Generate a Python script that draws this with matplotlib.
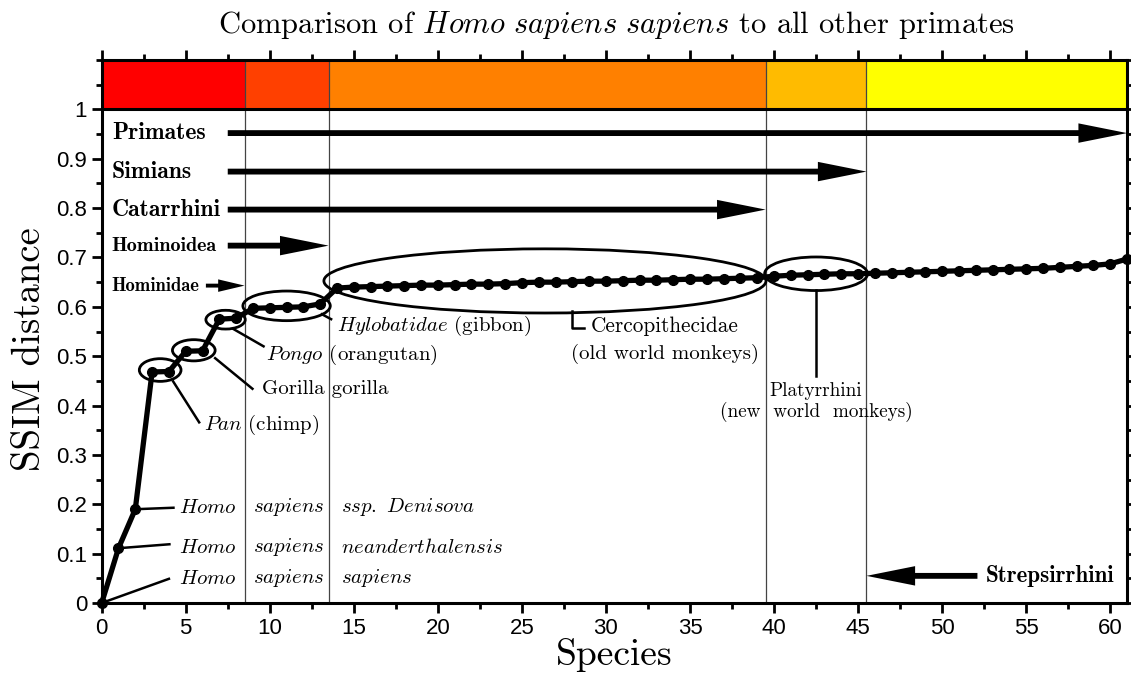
import numpy as np
import matplotlib
matplotlib.use("Agg")
import matplotlib.pyplot as plt
from matplotlib.patches import Ellipse, FancyArrowPatch
from matplotlib.ticker import MultipleLocator, FuncFormatter

plt.rcParams['mathtext.fontset'] = 'cm'

# species index and SSIM distance to Homo sapiens sapiens
species = np.arange(62)
ssim = [0.0, 0.111, 0.190, 0.468, 0.469, 0.510, 0.511, 0.575, 0.577,
        0.597, 0.598, 0.599, 0.600, 0.606,
        0.638, 0.640, 0.641, 0.642, 0.643, 0.644, 0.644, 0.645, 0.646,
        0.646, 0.647, 0.649, 0.650, 0.650, 0.651, 0.652, 0.652, 0.653,
        0.654, 0.654, 0.655, 0.656, 0.656, 0.657, 0.658, 0.659,
        0.662, 0.664, 0.665, 0.666, 0.667, 0.667,
        0.668, 0.669, 0.670, 0.671, 0.672, 0.673, 0.674, 0.675, 0.676,
        0.677, 0.678, 0.680, 0.682, 0.684, 0.687, 0.697]

# group boundaries and colour band
bounds = [0, 8.5, 13.5, 39.5, 45.5, 61]
band_colors = ['#ff0000', '#ff4000', '#ff8000', '#ffbb00', '#ffff00']

# clade arrows: label, y, start, end, font size
clades = [('Primates', 0.952, 7.5, 61, 17), ('Simians', 0.874, 7.5, 45.5, 17),
          ('Catarrhini', 0.797, 7.5, 39.5, 17), ('Hominoidea', 0.724, 7.5, 13.5, 14.5)]

serif = 'cmr10'
bold = 'cmb10'
sans = 'Liberation Sans'

fig = plt.figure(figsize=(11.31, 6.73), dpi=100)
ax = fig.add_axes([0.0899, 0.104, 0.9066, 0.8068])

# colour band
for i, c in enumerate(band_colors):
    ax.bar(bounds[i], 0.1, width=bounds[i + 1] - bounds[i], bottom=1,
           align='edge', color=c, edgecolor='none', zorder=1)
ax.axhline(1, color='black', lw=2.2, zorder=3)
for b in bounds[1:-1]:
    ax.axvline(b, color='#444444', lw=0.9, zorder=2)

ax.plot(species, ssim, '-o', color='black', lw=3.8, ms=7, zorder=5, clip_on=False)

def arrow(x0, x1, y, hl=35, hw=14, tw=4.2):
    p = FancyArrowPatch((x0, y), (x1, y), mutation_scale=1,
                        arrowstyle=f'simple,head_length={hl},head_width={hw},tail_width={tw}',
                        color='black', lw=0, shrinkA=0, shrinkB=0, zorder=6, clip_on=False)
    ax.add_patch(p)

for name, y, x0, x1, f in clades:
    ax.text(0.6, y, name, fontfamily=bold, fontsize=f, va='center', ha='left')
    arrow(x0, x1, y)
ax.text(0.6, 0.643, 'Hominidae', fontfamily=bold, fontsize=13.4, va='center')
arrow(6.2, 8.5, 0.643, hl=19, hw=9, tw=2.8)
ax.text(52.6, 0.055, 'Strepsirrhini', fontfamily=bold, fontsize=16.6, va='center')
arrow(52.1, 45.5, 0.055)

# ellipses round groups
ells = [(3.48, 0.472, 2.48, 0.046), (5.48, 0.512, 2.54, 0.043),
        (7.37, 0.574, 2.34, 0.038), (11.0, 0.602, 5.2, 0.060),
        (26.37, 0.6525, 26.3, 0.130), (42.5, 0.667, 6.12, 0.068)]
for cx, cy, w, h in ells:
    ax.add_patch(Ellipse((cx, cy), w, h, fill=False, lw=2, color='black', zorder=6))

fs = 15
# Homo rows
rows = [(0.195, 'ssp.\\ Denisova', (2, 0.19), (4.27, 0.193)),
        (0.114, 'neanderthalensis', (1, 0.111), (4.03, 0.119)),
        (0.051, 'sapiens', (0, 0), (4.0, 0.049))]
for y, third, p0, p1 in rows:
    ax.plot([p0[0], p1[0]], [p0[1], p1[1]], color='black', lw=1.8, zorder=4)
    ax.text(4.6, y, r'$\mathit{Homo}$', fontsize=fs, va='center')
    ax.text(9.0, y, r'$\mathit{sapiens}$', fontsize=fs, va='center')
    ax.text(14.26, y, r'$\mathit{' + third + '}$', fontsize=fs, va='center')

lines = [((4.25, 0.449), (5.8, 0.366)), ((6.75, 0.496), (8.97, 0.434)),
         ((7.84, 0.555), (9.63, 0.520)), ((13.1, 0.585), (13.65, 0.575))]
for a, b in lines:
    ax.plot([a[0], b[0]], [a[1], b[1]], color='black', lw=1.8, zorder=4)
ax.plot([28.0, 28.0, 28.7], [0.591, 0.557, 0.557], color='black', lw=1.8, zorder=4)
ax.plot([42.5, 42.5], [0.634, 0.460], color='black', lw=1.8, zorder=4)

ax.text(6.1, 0.361, r'$\mathit{Pan}$ (chimp)', fontfamily=serif, fontsize=fs, va='center')
ax.text(9.56, 0.434, 'Gorilla gorilla', fontfamily=serif, fontsize=fs, va='center')
ax.text(9.75, 0.503, r'$\mathit{Pongo}$ (orangutan)', fontfamily=serif, fontsize=fs, va='center')
ax.text(14.0, 0.561, r'$\mathit{Hylobatidae}$ (gibbon)', fontfamily=serif, fontsize=fs, va='center')
ax.text(33.5, 0.560, 'Cercopithecidae', fontfamily=serif, fontsize=15.3, va='center', ha='center')
ax.text(33.5, 0.505, '(old world monkeys)', fontfamily=serif, fontsize=15, va='center', ha='center')
ax.text(42.5, 0.430, 'Platyrrhini', fontfamily=serif, fontsize=13.8, va='center', ha='center')
ax.text(42.5, 0.387, '(new  world  monkeys)', fontfamily=serif, fontsize=13.8, va='center', ha='center')

ax.set_xlim(0, 61)
ax.set_ylim(0, 1.1)
ax.xaxis.set_major_locator(MultipleLocator(5))
ax.xaxis.set_minor_locator(MultipleLocator(2.5))
ax.set_yticks(np.arange(0, 1.01, 0.1))
ax.yaxis.set_minor_locator(MultipleLocator(0.05))
ax.yaxis.set_major_formatter(FuncFormatter(lambda v, p: '%g' % round(v, 2)))
ax.tick_params(which='both', direction='out', width=2, top=True, right=True,
               labelsize=16)
ax.tick_params(which='major', length=7)
ax.tick_params(which='minor', length=4)
for lab in ax.get_xticklabels() + ax.get_yticklabels():
    lab.set_fontfamily(sans)
for s in ax.spines.values():
    s.set_linewidth(2.2)

fig.text(0.545, 0.963, r'Comparison of $\mathit{Homo\ sapiens\ sapiens}$ to all other primates',
         fontfamily=serif, fontsize=22, ha='center', va='center')
fig.text(0.543, 0.027, 'Species', fontfamily=serif, fontsize=27, ha='center', va='center')
fig.text(0.027, 0.481, 'SSIM distance', fontfamily=serif, fontsize=28, ha='center',
         va='center', rotation=90)

fig.savefig('out.png', dpi=100)
